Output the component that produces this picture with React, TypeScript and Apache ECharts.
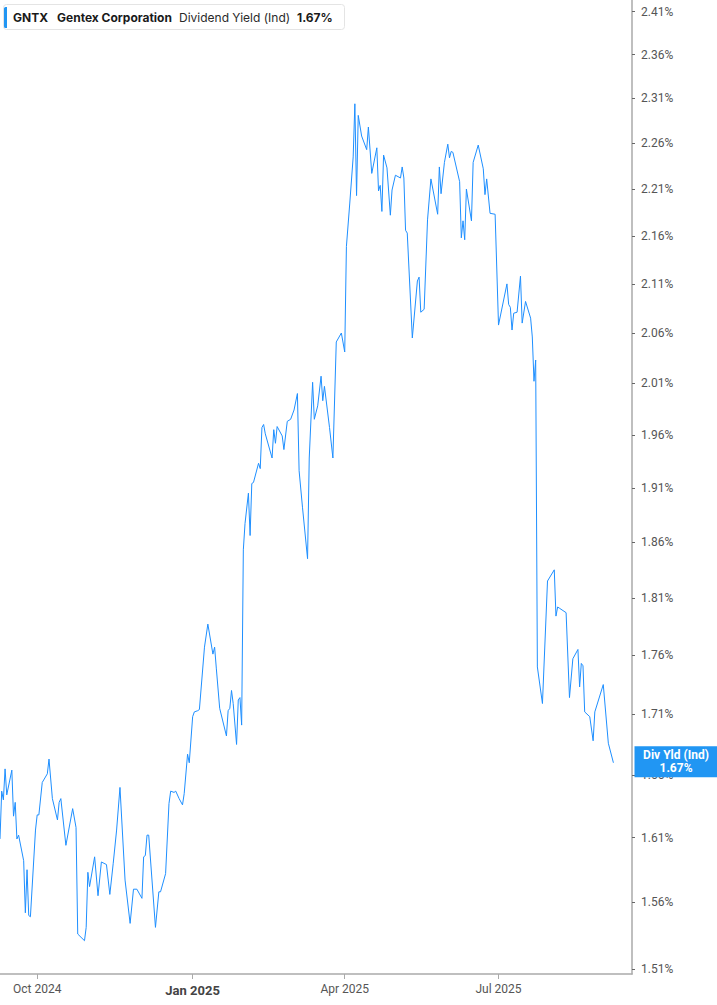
import React, { useEffect, useRef } from 'react';
import * as echarts from 'echarts';

// GNTX indicated dividend yield, Sep 2024 – Sep 2025
const dates = [
  '2024-09-09', '2024-09-10', '2024-09-11', '2024-09-12', '2024-09-13', '2024-09-16', '2024-09-17', '2024-09-18',
  '2024-09-19', '2024-09-20', '2024-09-23', '2024-09-24', '2024-09-25', '2024-09-26', '2024-09-27', '2024-09-30',
  '2024-10-01', '2024-10-02', '2024-10-04', '2024-10-07', '2024-10-08', '2024-10-10', '2024-10-13', '2024-10-14',
  '2024-10-15', '2024-10-18', '2024-10-22', '2024-10-24', '2024-10-25', '2024-10-29', '2024-10-30', '2024-10-31',
  '2024-11-01', '2024-11-04', '2024-11-06', '2024-11-08', '2024-11-11', '2024-11-13', '2024-11-15', '2024-11-17',
  '2024-11-19', '2024-11-22', '2024-11-25', '2024-11-27', '2024-11-29',
  '2024-12-02', '2024-12-03', '2024-12-04', '2024-12-05', '2024-12-06', '2024-12-10', '2024-12-12', '2024-12-13',
  '2024-12-16', '2024-12-18', '2024-12-19', '2024-12-21', '2024-12-22', '2024-12-24', '2024-12-26', '2024-12-27',
  '2024-12-29', '2024-12-30',
  '2025-01-01', '2025-01-02', '2025-01-04', '2025-01-05', '2025-01-08', '2025-01-10', '2025-01-13', '2025-01-14',
  '2025-01-15', '2025-01-17', '2025-01-21', '2025-01-22', '2025-01-23', '2025-01-24', '2025-01-25', '2025-01-27',
  '2025-01-28', '2025-01-29', '2025-01-30', '2025-01-31',
  '2025-02-01', '2025-02-03', '2025-02-04', '2025-02-05', '2025-02-06', '2025-02-09', '2025-02-10', '2025-02-11',
  '2025-02-12', '2025-02-13', '2025-02-17', '2025-02-18', '2025-02-19', '2025-02-20', '2025-02-23', '2025-02-24',
  '2025-02-26', '2025-02-28',
  '2025-03-02', '2025-03-04', '2025-03-05', '2025-03-07', '2025-03-10', '2025-03-11', '2025-03-13', '2025-03-14',
  '2025-03-16', '2025-03-18', '2025-03-19', '2025-03-20', '2025-03-23', '2025-03-25', '2025-03-27', '2025-03-30',
  '2025-04-01', '2025-04-02', '2025-04-04', '2025-04-06', '2025-04-07', '2025-04-08', '2025-04-09', '2025-04-11',
  '2025-04-14', '2025-04-15', '2025-04-17', '2025-04-20', '2025-04-21', '2025-04-22', '2025-04-23', '2025-04-24',
  '2025-04-26', '2025-04-28', '2025-04-29',
  '2025-05-01', '2025-05-04', '2025-05-05', '2025-05-06', '2025-05-07', '2025-05-08', '2025-05-11', '2025-05-14',
  '2025-05-15', '2025-05-16', '2025-05-18', '2025-05-20', '2025-05-22', '2025-05-26', '2025-05-27', '2025-05-28',
  '2025-05-30',
  '2025-06-01', '2025-06-02', '2025-06-03', '2025-06-04', '2025-06-08', '2025-06-09', '2025-06-10', '2025-06-11',
  '2025-06-12', '2025-06-15', '2025-06-16', '2025-06-19', '2025-06-22', '2025-06-23', '2025-06-24', '2025-06-26',
  '2025-06-29',
  '2025-07-01', '2025-07-06', '2025-07-07', '2025-07-08', '2025-07-09', '2025-07-10', '2025-07-12', '2025-07-14',
  '2025-07-15', '2025-07-17', '2025-07-20', '2025-07-21', '2025-07-22', '2025-07-23', '2025-07-24', '2025-07-27',
  '2025-07-30',
  '2025-08-03', '2025-08-04', '2025-08-05', '2025-08-06', '2025-08-10', '2025-08-12', '2025-08-14', '2025-08-17',
  '2025-08-18', '2025-08-19', '2025-08-20', '2025-08-21', '2025-08-24', '2025-08-26', '2025-08-27',
  '2025-09-01', '2025-09-04', '2025-09-07',
];

const yields = [
  1.609, 1.647, 1.640, 1.665, 1.644, 1.664, 1.627, 1.638, 1.609, 1.612, 1.592, 1.552, 1.585, 1.550, 1.549, 1.616,
  1.628, 1.628, 1.654, 1.661, 1.673, 1.641, 1.624, 1.638, 1.641, 1.604, 1.633, 1.618, 1.536, 1.531, 1.541, 1.583,
  1.572, 1.595, 1.565, 1.591, 1.589, 1.566, 1.590, 1.616, 1.650, 1.577, 1.544, 1.570, 1.570,
  1.563, 1.595, 1.596, 1.612, 1.612, 1.541, 1.568, 1.568, 1.582, 1.637, 1.647, 1.646, 1.647, 1.641, 1.636, 1.645,
  1.677, 1.670,
  1.708, 1.712, 1.713, 1.714, 1.767, 1.787, 1.761, 1.767, 1.749, 1.715, 1.692, 1.713, 1.715, 1.730, 1.719, 1.685,
  1.722, 1.724, 1.701, 1.853,
  1.877, 1.905, 1.866, 1.914, 1.915, 1.933, 1.928, 1.967, 1.970, 1.961, 1.938, 1.965, 1.952, 1.968, 1.959, 1.946,
  1.973, 1.975,
  1.984, 2.000, 1.926, 1.892, 1.845, 1.938, 2.011, 1.975, 1.988, 2.017, 1.993, 2.007, 1.967, 1.938, 2.051, 2.060,
  2.041, 2.149, 2.195, 2.245, 2.304, 2.203, 2.291, 2.268, 2.253, 2.278, 2.227, 2.255, 2.208, 2.214, 2.186, 2.247,
  2.233, 2.182, 2.209,
  2.225, 2.222, 2.234, 2.222, 2.166, 2.163, 2.055, 2.113, 2.117, 2.081, 2.084, 2.177, 2.221, 2.183, 2.234, 2.205,
  2.239,
  2.259, 2.244, 2.251, 2.250, 2.218, 2.158, 2.176, 2.156, 2.210, 2.176, 2.239, 2.258, 2.232, 2.204, 2.221, 2.184,
  2.183,
  2.068, 2.110, 2.089, 2.086, 2.063, 2.080, 2.081, 2.118, 2.070, 2.092, 2.075, 2.056, 2.012, 2.033, 1.750, 1.719,
  1.825,
  1.835, 1.794, 1.802, 1.801, 1.797, 1.724, 1.757, 1.765, 1.733, 1.753, 1.751, 1.712, 1.708, 1.688, 1.712,
  1.735, 1.686, 1.670,
];

const yTicks = [
  1.51, 1.56, 1.61, 1.66, 1.71, 1.76, 1.81, 1.86, 1.91, 1.96, 2.01, 2.06, 2.11, 2.16, 2.21, 2.26, 2.31, 2.36, 2.41,
];
const xTicks = ['2024-10-01', '2025-01-01', '2025-04-01', '2025-07-01'];
const monthNames = ['Jan', 'Feb', 'Mar', 'Apr', 'May', 'Jun', 'Jul', 'Aug', 'Sep', 'Oct', 'Nov', 'Dec'];

const ticker = 'GNTX';
const company = 'Gentex Corporation';
const metric = 'Dividend Yield (Ind)';
const lastLabel = 'Div Yld (Ind)';
const lastValue = 1.67;

const xStart = '2024-09-09';
const xEnd = '2025-09-18';
const yMin = 1.5063;
const yMax = 2.4238;

const BLUE = '#1e8fff';
const BOX_BLUE = '#2196f3';

const toTime = (d: string) => new Date(d + 'T00:00:00').getTime();

const App: React.FC = () => {
  const chartRef = useRef<HTMLDivElement>(null);

  useEffect(() => {
    if (!chartRef.current) return;
    const chart = echarts.init(chartRef.current, undefined, { renderer: 'svg' });

    const option: echarts.EChartsOption = {
      animation: false,
      backgroundColor: '#fff',
      grid: { left: 0, right: 85, top: 0, bottom: 31 },
      xAxis: {
        // timestamps on a value axis so the quarter ticks can be placed exactly
        type: 'value',
        min: toTime(xStart),
        max: toTime(xEnd),
        axisLine: { show: true, lineStyle: { color: '#aaa', width: 1.5 } },
        axisTick: {
          show: true,
          length: 5,
          customValues: xTicks.map(toTime),
          lineStyle: { color: '#aaa' },
        },
        axisLabel: {
          customValues: xTicks.map(toTime),
          margin: 9,
          fontFamily: 'Roboto',
          fontSize: 12,
          color: '#555',
          formatter: (val: number) => {
            const d = new Date(val);
            const txt = `${monthNames[d.getMonth()]} ${d.getFullYear()}`;
            return d.getMonth() === 0 ? `{y|${txt}}` : txt;
          },
          rich: {
            y: { fontFamily: 'Roboto', fontSize: 13, fontWeight: 'bold', color: '#444', padding: [1, 0, 0, 0] },
          },
        },
        splitLine: { show: false },
      },
      yAxis: {
        type: 'log',
        logBase: 10,
        position: 'right',
        min: yMin,
        max: yMax,
        axisLine: { show: true, lineStyle: { color: '#aaa', width: 1.5 } },
        axisTick: {
          show: true,
          length: 3,
          customValues: yTicks,
          lineStyle: { color: '#666' },
        },
        axisLabel: {
          customValues: yTicks,
          margin: 9,
          fontFamily: 'Roboto',
          fontSize: 12,
          color: '#555',
          formatter: (v: number) => `${v.toFixed(2)}%`,
        },
        splitLine: { show: false },
      },
      graphic: [
        {
          type: 'rect',
          shape: { x: 3.5, y: 4.5, width: 341, height: 25, r: 3 },
          style: { fill: '#fff', stroke: '#e4e4e4', lineWidth: 1 },
          z: 10,
        },
        {
          type: 'rect',
          shape: { x: 4, y: 7, width: 3, height: 21, r: [1.5, 0, 0, 1.5] },
          style: { fill: BOX_BLUE },
          z: 11,
        },
        {
          type: 'text',
          x: 13,
          y: 17,
          style: { text: ticker, fontFamily: 'Inter', fontSize: 12, fontWeight: 'bold', fill: '#1a1a1a', verticalAlign: 'middle' },
          z: 11,
        },
        {
          type: 'text',
          x: 57,
          y: 17,
          style: { text: company, fontFamily: 'Inter', fontSize: 12, fontWeight: 'bold', fill: '#1a1a1a', verticalAlign: 'middle' },
          z: 11,
        },
        {
          type: 'text',
          x: 179,
          y: 17,
          style: { text: metric, fontFamily: 'Inter', fontSize: 12, fill: '#2a2a2a', verticalAlign: 'middle' },
          z: 11,
        },
        {
          type: 'text',
          x: 297,
          y: 17,
          style: { text: `${lastValue.toFixed(2)}%`, fontFamily: 'Inter', fontSize: 12, fontWeight: 'bold', fill: '#1a1a1a', verticalAlign: 'middle' },
          z: 11,
        },
      ],
      series: [
        {
          name: metric,
          type: 'line',
          data: dates.map((d, i) => [toTime(d), yields[i]]),
          showSymbol: false,
          symbol: 'none',
          clip: false,
          lineStyle: { color: BLUE, width: 1 },
          markPoint: {
            symbol: 'rect',
            symbolSize: [83, 31],
            symbolOffset: [44, -1],
            itemStyle: { color: BOX_BLUE },
            label: {
              show: true,
              position: 'inside',
              formatter: `{a|${lastLabel}}\n{a|${lastValue.toFixed(2)}%}`,
              rich: {
                a: { color: '#fff', fontFamily: 'Roboto', fontSize: 12, fontWeight: 'bold', lineHeight: 13, align: 'center' },
              },
            },
            data: [{ coord: [toTime(xEnd), lastValue] }],
          },
        },
      ],
    };

    chart.setOption(option);

    const handleResize = () => chart.resize();
    window.addEventListener('resize', handleResize);
    return () => {
      window.removeEventListener('resize', handleResize);
      chart.dispose();
    };
  }, []);

  return (
    <div
      ref={chartRef}
      style={{ position: 'fixed', left: 0, top: 0, width: '717px', height: '1005px', background: '#fff' }}
    />
  );
};

export default App;
